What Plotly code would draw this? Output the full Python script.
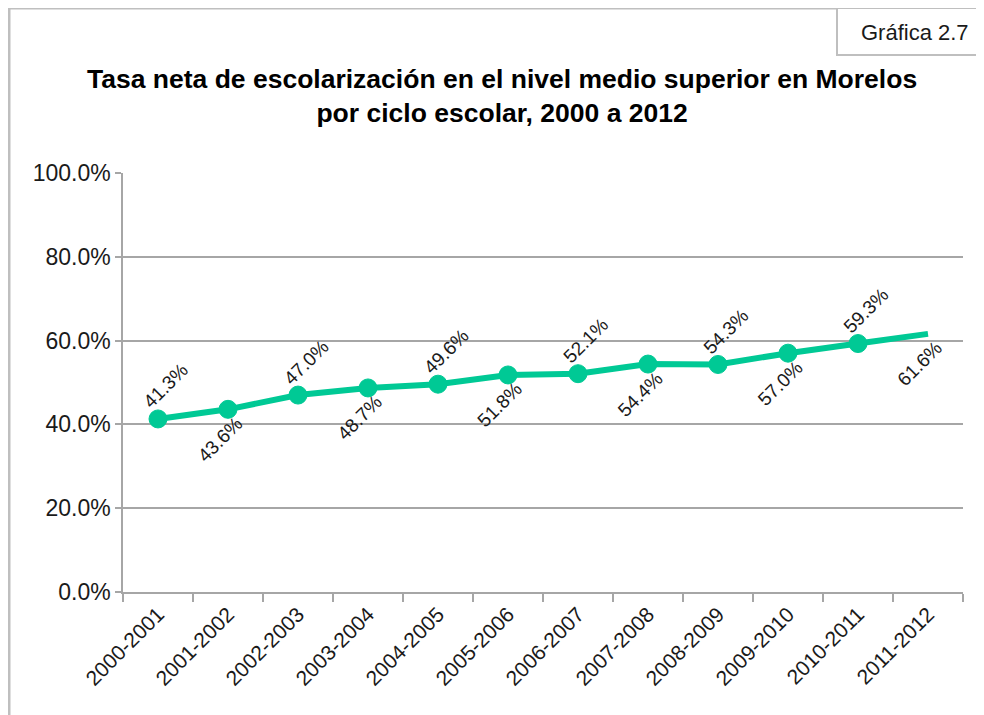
import plotly.graph_objects as go

categories = ["2000-2001", "2001-2002", "2002-2003", "2003-2004", "2004-2005", "2005-2006",
              "2006-2007", "2007-2008", "2008-2009", "2009-2010", "2010-2011", "2011-2012"]
values = [41.3, 43.6, 47.0, 48.7, 49.6, 51.8, 52.1, 54.4, 54.3, 57.0, 59.3, 61.6]
y_ticks = [0, 20, 40, 60, 80, 100]

title_lines = ["Tasa neta de escolarización en el nivel medio superior en Morelos",
               "por ciclo escolar, 2000 a 2012"]
badge = "Gráfica 2.7"

FONT = "Liberation Sans, Arial, sans-serif"
GREEN = "#00C995"
GRAY = "#A6A6A6"

OFF = 8  # page body margin
W, H = 984, 715
L, R, T, B = 115, 29, 165, 131
pw, ph = W - L - R, H - T - B

def px(x):
    return (x - OFF - L) / pw

def py(y):
    return (H - B - (y - OFF)) / ph

n = len(values)
sizes = [18] * (n - 1) + [0]

fig = go.Figure()
fig.add_trace(go.Scatter(
    x=categories, y=values, mode="lines+markers",
    line=dict(color=GREEN, width=6),
    marker=dict(color=GREEN, size=sizes, opacity=1,
                line=dict(color=GREEN, width=1)),
    hoverinfo="skip", showlegend=False,
))

annotations = []
for i, (c, v) in enumerate(zip(categories, values)):
    above = (i % 2 == 0)
    annotations.append(dict(
        x=c, y=v, xref="x", yref="y", text=f"{v:.1f}%", showarrow=False,
        textangle=-45, xanchor="center", yanchor="middle",
        xshift=8 if above else -8, yshift=33 if above else -30,
        font=dict(family=FONT, size=19, color="#1a1a1a"),
    ))

annotations.append(dict(
    x=px(502), y=py(96), xref="paper", yref="paper", showarrow=False,
    text="<b>" + title_lines[0] + "</b><br><b>" + title_lines[1] + "</b>",
    xanchor="center", yanchor="middle", align="center",
    font=dict(family=FONT, size=26.5, color="#000000"),
))
annotations.append(dict(
    x=px(915), y=py(32), xref="paper", yref="paper", showarrow=False,
    text=badge, xanchor="center", yanchor="middle",
    font=dict(family=FONT, size=22, color="#1a1a1a"),
))

shapes = [
    dict(type="rect", xref="paper", yref="paper",
         x0=px(9), x1=px(1060), y0=py(800), y1=py(8),
         line=dict(color="#BFBFBF", width=3), layer="below"),
    dict(type="rect", xref="paper", yref="paper",
         x0=px(837), x1=px(1060), y0=py(55), y1=py(8),
         line=dict(color="#BFBFBF", width=2), fillcolor="white", layer="below"),
]

fig.update_layout(
    width=W, height=H,
    margin=dict(l=L, r=R, t=T, b=B),
    paper_bgcolor="white", plot_bgcolor="white",
    annotations=annotations, shapes=shapes,
    xaxis=dict(
        type="category", range=[-0.5, n - 0.5], tickson="boundaries",
        ticks="outside", ticklen=8, tickcolor=GRAY, tickwidth=1.5,
        showline=True, linecolor=GRAY, linewidth=1.5,
        showgrid=False, tickangle=-45,
        tickfont=dict(family=FONT, size=21, color="#1a1a1a"),
    ),
    yaxis=dict(
        range=[0, 100], tickvals=y_ticks, ticktext=[f"{t:.1f}%" for t in y_ticks],
        ticks="outside", ticklen=6, tickcolor=GRAY, tickwidth=1.5,
        showline=True, linecolor=GRAY, linewidth=1.5,
        showgrid=True, gridcolor=GRAY, gridwidth=1.5, zeroline=False,
        tickfont=dict(family=FONT, size=23, color="#1a1a1a"),
    ),
)

fig.write_html("out.html")
